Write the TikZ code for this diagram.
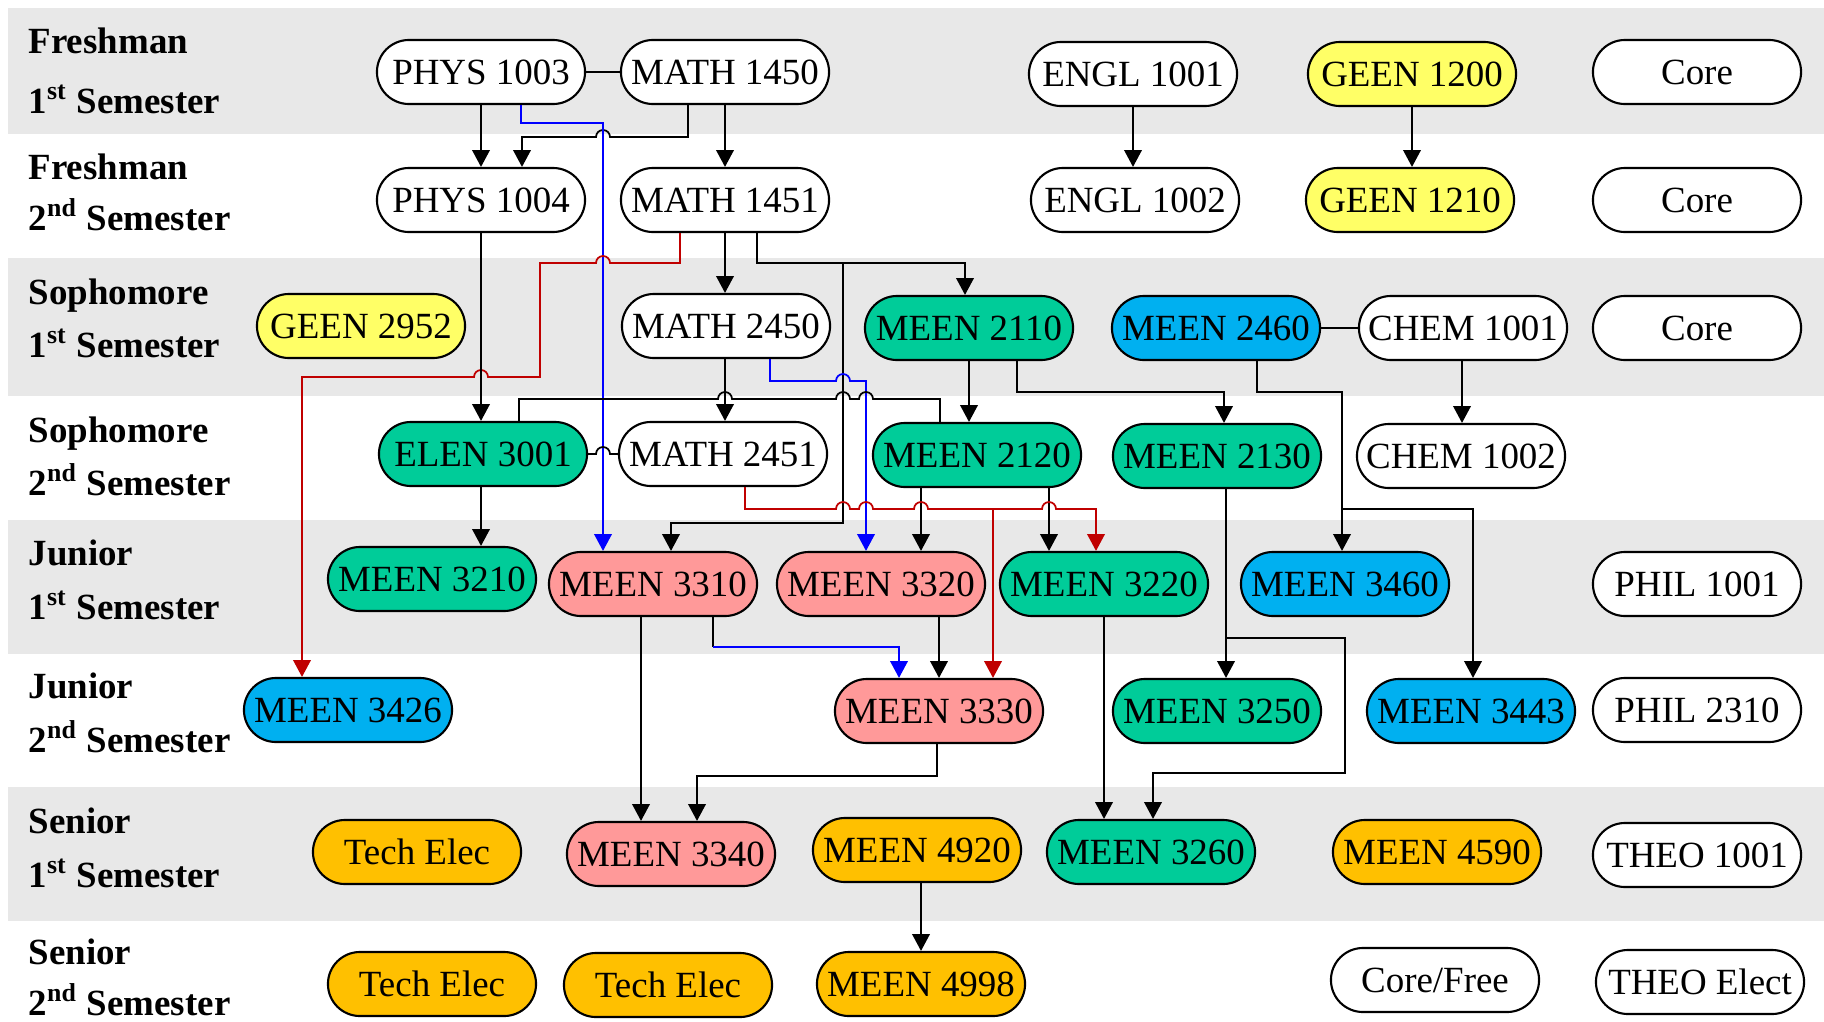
\documentclass[tikz,border=0pt]{standalone}
\usepackage{fontspec}
\setmainfont{Liberation Serif}
\usetikzlibrary{arrows.meta}

\definecolor{bandgray}{HTML}{E8E8E8}
\definecolor{geenyellow}{HTML}{FFFF66}
\definecolor{meengreen}{HTML}{00CC99}
\definecolor{meenblue}{HTML}{00B0F0}
\definecolor{meenpink}{HTML}{FF9999}
\definecolor{elecgold}{HTML}{FFC000}
\definecolor{prereqred}{HTML}{C00000}

\newcommand{\hopR}{arc[start angle=180,end angle=360,radius=7]}
\newcommand{\hopL}{arc[start angle=0,end angle=-180,radius=7]}

\begin{document}
\begin{tikzpicture}[x=0.01cm,y=-0.01cm,font=\fontsize{10.5}{12}\selectfont]

\tikzset{course/.style = {draw, line width=0.6pt, fill=white, rounded corners=0.32cm,
    minimum width=2.08cm, minimum height=0.64cm, inner sep=0pt, text height=7pt, text depth=0pt},
  yearlabel/.style = {anchor=base west, inner sep=0pt, font=\fontsize{10.5}{12}\selectfont\bfseries},
  pre/.style = {line width=0.5pt, -{Triangle[length=4.8pt,width=5pt]}},
  link/.style = {line width=0.5pt}}

\useasboundingbox (0,0) rectangle (1824,1021);
\foreach \ya/\yb in {8/134,258/396,520/654,787/921}
  \fill[bandgray] (8,\ya) rectangle (1824,\yb);

\foreach \lab/\yr/\sem/\ya/\yb in {fr1/Freshman/1\textsuperscript{st}/53/113,
    fr2/Freshman/2\textsuperscript{nd}/179/230, so1/Sophomore/1\textsuperscript{st}/304/357,
    so2/Sophomore/2\textsuperscript{nd}/442/495, ju1/Junior/1\textsuperscript{st}/565/619,
    ju2/Junior/2\textsuperscript{nd}/698/752, se1/Senior/1\textsuperscript{st}/833/887,
    se2/Senior/2\textsuperscript{nd}/964/1015}
  {\node[yearlabel] (\lab a) at (28,\ya) {\yr};
   \node[yearlabel] (\lab b) at (28,\yb) {\sem\ Semester};}

\node[course] (phys1003) at (481,72) {PHYS 1003};
\node[course] (math1450) at (725,72) {MATH 1450};
\node[course] (engl1001) at (1133,74) {ENGL 1001};
\node[course,fill=geenyellow] (geen1200) at (1412,74) {GEEN 1200};
\node[course] (core1) at (1697,72) {Core};

\node[course] (phys1004) at (481,200) {PHYS 1004};
\node[course] (math1451) at (725,200) {MATH 1451};
\node[course] (engl1002) at (1135,200) {ENGL 1002};
\node[course,fill=geenyellow] (geen1210) at (1410,200) {GEEN 1210};
\node[course] (core2) at (1697,200) {Core};

\node[course,fill=geenyellow] (geen2952) at (361,326) {GEEN 2952};
\node[course] (math2450) at (726,326) {MATH 2450};
\node[course,fill=meengreen] (meen2110) at (969,328) {MEEN 2110};
\node[course,fill=meenblue] (meen2460) at (1216,328) {MEEN 2460};
\node[course] (chem1001) at (1463,328) {CHEM 1001};
\node[course] (core3) at (1697,328) {Core};

\node[course,fill=meengreen] (elen3001) at (483,454) {ELEN 3001};
\node[course] (math2451) at (723,454) {MATH 2451};
\node[course,fill=meengreen] (meen2120) at (977,455) {MEEN 2120};
\node[course,fill=meengreen] (meen2130) at (1217,456) {MEEN 2130};
\node[course] (chem1002) at (1461,456) {CHEM 1002};

\node[course,fill=meengreen] (meen3210) at (432,579) {MEEN 3210};
\node[course,fill=meenpink] (meen3310) at (653,584) {MEEN 3310};
\node[course,fill=meenpink] (meen3320) at (881,584) {MEEN 3320};
\node[course,fill=meengreen] (meen3220) at (1104,584) {MEEN 3220};
\node[course,fill=meenblue] (meen3460) at (1345,584) {MEEN 3460};
\node[course] (phil1001) at (1697,584) {PHIL 1001};

\node[course,fill=meenblue] (meen3426) at (348,710) {MEEN 3426};
\node[course,fill=meenpink] (meen3330) at (939,711) {MEEN 3330};
\node[course,fill=meengreen] (meen3250) at (1217,711) {MEEN 3250};
\node[course,fill=meenblue] (meen3443) at (1471,711) {MEEN 3443};
\node[course] (phil2310) at (1697,710) {PHIL 2310};

\node[course,fill=elecgold] (tech1) at (417,852) {Tech Elec};
\node[course,fill=meenpink] (meen3340) at (671,854) {MEEN 3340};
\node[course,fill=elecgold] (meen4920) at (917,850) {MEEN 4920};
\node[course,fill=meengreen] (meen3260) at (1151,852) {MEEN 3260};
\node[course,fill=elecgold] (meen4590) at (1437,852) {MEEN 4590};
\node[course] (theo1001) at (1697,855) {THEO 1001};

\node[course,fill=elecgold] (tech2) at (432,984) {Tech Elec};
\node[course,fill=elecgold] (tech3) at (668,985) {Tech Elec};
\node[course,fill=elecgold] (meen4998) at (921,984) {MEEN 4998};
\node[course] (corefree) at (1435,980) {Core/Free};
\node[course] (theoelect) at (1700,982) {THEO Elect};

\draw[link] (phys1003.east) -- (math1450.west);
\draw[pre] (phys1003.south) -- (phys1004.north);
\draw[pre] (math1450.south -| 688,0) |- (610,137) \hopL -- (522,137) -- (phys1004.north -| 522,0);
\draw[pre] (math1450.south) -- (math1451.north);
\draw[pre] (engl1001.south) -- (engl1001.south |- engl1002.north);
\draw[pre] (geen1200.south) -- (geen1200.south |- geen1210.north);
\draw[pre,blue] (phys1003.south -| 521,0) |- (603,123) -- (meen3310.north -| 603,0);

\draw[pre,prereqred] (math1451.south -| 680,0) |- (610,263) \hopL -- (540,263) |- (488,377) \hopL
  -| (meen3426.north -| 302,0);
\draw[pre] (phys1004.south) -- (phys1004.south |- elen3001.north);
\draw[pre] (math1451.south) -- (math1451.south |- math2450.north);
\draw[pre] (math1451.south -| 757,0) |- (965,263) -- (meen2110.north -| 965,0);
\draw[pre] (math1451.south -| 757,0) |- (843,263) -- (843,523) -| (meen3310.north -| 671,0);

\draw[pre] (math2450.south -| 725,0) -- (math2451.north -| 725,0);
\draw[pre,blue] (math2450.south -| 770,0) |- (836,381) \hopR -| (meen3320.north -| 866,0);
\draw[link] (elen3001.north -| 519,0) |- (718,399) \hopR -- (836,399) \hopR -- (859,399) \hopR
  -| (meen2120.north -| 940,0);
\draw[link] (elen3001.east) -- (596,454) \hopR -- (math2451.west);
\draw[pre] (meen2110.south -| 969,0) -- (meen2120.north -| 969,0);
\draw[pre] (meen2110.south -| 1017,0) |- (1224,392) -- (meen2130.north -| 1224,0);
\draw[link] (meen2460.east) -- (chem1001.west);
\draw[pre] (chem1001.south -| 1462,0) -- (chem1002.north -| 1462,0);
\draw[pre] (meen2460.south -| 1257,0) |- (1342,392) -- (meen3460.north -| 1342,0);
\draw[pre] (meen2460.south -| 1257,0) |- (1342,392) |- (1473,509) -- (meen3443.north -| 1473,0);

\draw[pre] (elen3001.south -| 481,0) -- (meen3210.north -| 481,0);
\draw[pre] (meen2120.south -| 921,0) -- (meen3320.north -| 921,0);
\draw[pre] (meen2120.south -| 1049,0) -- (meen3220.north -| 1049,0);
\draw[pre,prereqred] (math2451.south -| 745,0) |- (836,509) \hopR -- (859,509) \hopR -- (914,509) \hopR
  -- (1042,509) \hopR -| (meen3220.north -| 1096,0);
\coordinate (redsplit) at (993,509);
\draw[pre,prereqred] (redsplit) -- (meen3330.north -| redsplit);
\draw[pre] (meen2130.south -| 1226,0) -- (meen3250.north -| 1226,0);
\draw[pre] (meen2130.south -| 1226,0) |- (1345,638) |- (1153,773) -- (meen3260.north -| 1153,0);

\draw[link] (meen3310.south -| 713,0) -- (713,647) coordinate (bluebend);
\draw[pre,blue] (bluebend) -| (meen3330.north -| 899,0);
\draw[pre] (meen3320.south -| 939,0) -- (meen3330.north -| 939,0);
\draw[pre] (meen3310.south -| 641,0) -- (meen3340.north -| 641,0);
\draw[pre] (meen3330.south -| 937,0) |- (697,776) -- (meen3340.north -| 697,0);
\draw[pre] (meen3220.south -| 1104,0) -- (meen3260.north -| 1104,0);
\draw[pre] (meen4920.south -| 921,0) -- (meen4998.north -| 921,0);

\end{tikzpicture}
\end{document}
